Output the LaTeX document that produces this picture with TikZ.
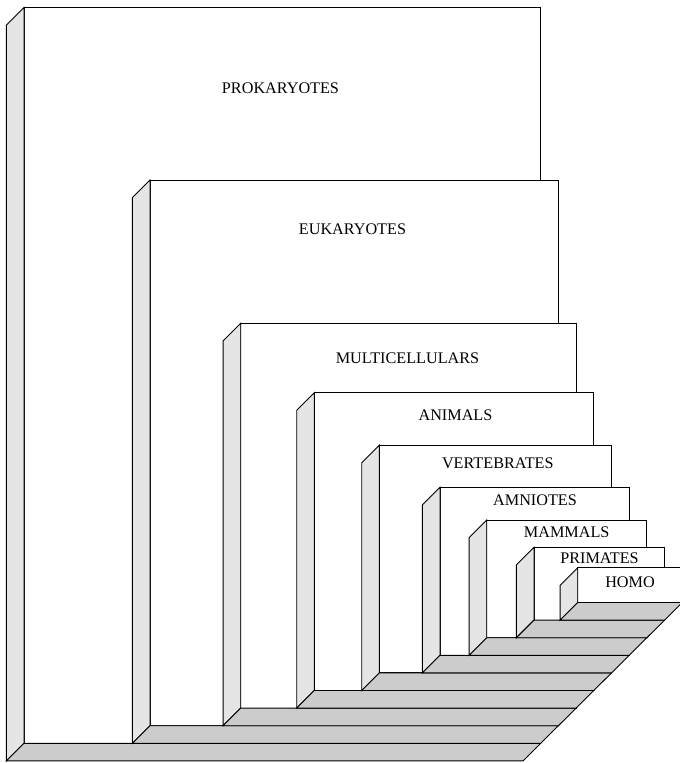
\documentclass[tikz,border=0pt]{standalone}
\usepackage{fontspec}
\setmainfont{Liberation Serif}
\usepackage{xcolor}
\definecolor{sidegray}{RGB}{229,229,229}
\definecolor{floorgray}{RGB}{204,204,204}
\usepackage{tikz}
\usetikzlibrary{positioning}

\begin{document}
\begin{tikzpicture}[x=1pt,y=-1pt,line width=0.9pt,line join=miter,
  front/.style={draw=black,fill=white},
  side/.style={draw=black,fill=sidegray},
  floor/.style={draw=black,fill=floorgray},
  lbl/.style={font=\fontsize{16.2}{19}\selectfont,inner sep=0pt}]
  \useasboundingbox (0,0) rectangle (680,763);
  % PROKARYOTES
  \filldraw[front] (24,7.5) rectangle (540.7,743.3);
  \filldraw[side] (24,7.5) -- ++(-17.6,17.6) -- ++(0,735.8) -- ++(17.6,-17.6) -- cycle;
  \filldraw[floor] (24,743.3) -- (540.7,743.3) -- (523,760.9) -- (6.4,760.9) -- cycle;
  \node[lbl] (pro) at (280.5,88.3) {PROKARYOTES};
  % EUKARYOTES
  \filldraw[front] (150,180) rectangle (558.4,725.7);
  \filldraw[side] (150,180) -- ++(-17.6,17.6) -- ++(0,545.7) -- ++(17.6,-17.6) -- cycle;
  \filldraw[floor] (150,725.7) -- (558.4,725.7) -- (540.7,743.3) -- (132.4,743.3) -- cycle;
  \node[lbl] (euk) at (352.5,229.3) {EUKARYOTES};
  % MULTICELLULARS
  \filldraw[front] (240.7,323.3) rectangle (576.1,708.1);
  \filldraw[side] (240.7,323.3) -- ++(-17.6,17.6) -- ++(0,384.8) -- ++(17.6,-17.6) -- cycle;
  \filldraw[floor] (240.7,708.1) -- (576.1,708.1) -- (558.4,725.7) -- (223.1,725.7) -- cycle;
  \node[lbl] (mul) at (407.5,358.3) {MULTICELLULARS};
  % ANIMALS
  \filldraw[front] (314.3,392.7) rectangle (593.8,690.5);
  \filldraw[side] (314.3,392.7) -- ++(-17.6,17.6) -- ++(0,297.8) -- ++(17.6,-17.6) -- cycle;
  \filldraw[floor] (314.3,690.5) -- (593.8,690.5) -- (576.1,708.1) -- (296.7,708.1) -- cycle;
  \node[lbl] (ani) at (455.5,415.7) {ANIMALS};
  % VERTEBRATES
  \filldraw[front] (379.3,445.3) rectangle (611.5,672.9);
  \filldraw[side] (379.3,445.3) -- ++(-17.6,17.6) -- ++(0,227.6) -- ++(17.6,-17.6) -- cycle;
  \filldraw[floor] (379.3,672.9) -- (611.5,672.9) -- (593.8,690.5) -- (361.7,690.5) -- cycle;
  \node[lbl] (ver) at (497.8,463.3) {VERTEBRATES};
  % AMNIOTES
  \filldraw[front] (440,487.3) rectangle (629.2,655.3);
  \filldraw[side] (440,487.3) -- ++(-17.6,17.6) -- ++(0,168) -- ++(17.6,-17.6) -- cycle;
  \filldraw[floor] (440,655.3) -- (629.2,655.3) -- (611.5,672.9) -- (422.4,672.9) -- cycle;
  \node[lbl] (amn) at (535,500.7) {AMNIOTES};
  % MAMMALS
  \filldraw[front] (486.7,520) rectangle (646.9,637.7);
  \filldraw[side] (486.7,520) -- ++(-17.6,17.6) -- ++(0,117.7) -- ++(17.6,-17.6) -- cycle;
  \filldraw[floor] (486.7,637.7) -- (646.9,637.7) -- (629.2,655.3) -- (469.1,655.3) -- cycle;
  \node[lbl] (mam) at (566.7,532.7) {MAMMALS};
  % PRIMATES
  \filldraw[front] (534,547.3) rectangle (664.6,620.1);
  \filldraw[side] (534,547.3) -- ++(-17.6,17.6) -- ++(0,72.8) -- ++(17.6,-17.6) -- cycle;
  \filldraw[floor] (534,620.1) -- (664.6,620.1) -- (646.9,637.7) -- (516.4,637.7) -- cycle;
  \node[lbl] (pri) at (599.5,558.3) {PRIMATES};
  % HOMO
  \filldraw[front] (577.7,567.7) rectangle (682.3,602.5);
  \filldraw[side] (577.7,567.7) -- ++(-17.6,17.6) -- ++(0,34.8) -- ++(17.6,-17.6) -- cycle;
  \filldraw[floor] (577.7,602.5) -- (682.3,602.5) -- (664.6,620.1) -- (560.1,620.1) -- cycle;
  \node[lbl] (hom) at (630,582.3) {HOMO};
\end{tikzpicture}
\end{document}
